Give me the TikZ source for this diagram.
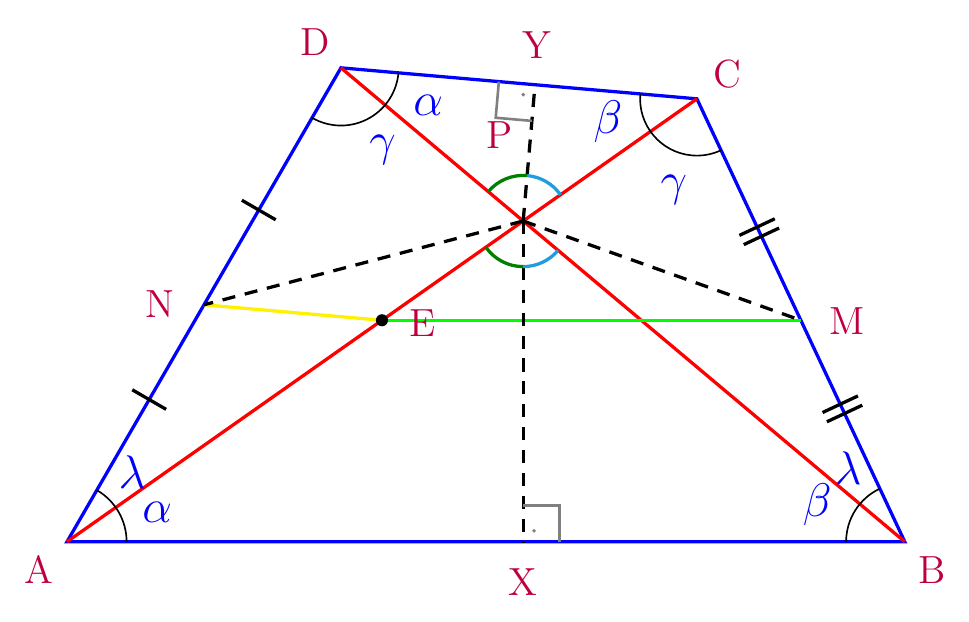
\documentclass[tikz,border=0pt]{standalone}
\usepackage{amsmath}
\usepackage{xcolor}
\usepackage{tikz}
\usetikzlibrary{calc}

\tikzset{
	side/.style={blue, line width=1pt},
	diag/.style={red, line width=1pt},
	aux/.style={black, line width=1pt, dash pattern=on 4pt off 3pt},
	tickmark/.style={black, line width=1pt},
	rmark/.style={gray, line width=0.8pt},
	lbl/.style={text=purple, font=\large},
	ang/.style={text=blue, font=\Large}
}

\begin{document}
\begin{tikzpicture}
			\useasboundingbox (-0.72,-0.86) rectangle (9.69,5.82);
			\coordinate (A) at (0,0);
			\coordinate (B) at (9,0);
			\coordinate (C) at (6.767,4.758);
			\coordinate (D) at (2.943,5.091);
			\coordinate (P) at (intersection of A--C and B--D);
			\coordinate (N) at ($(A)!0.5!(D)$);
			\coordinate (M) at ($(B)!0.5!(C)$);
			\coordinate (E) at ($(A)!0.5!(C)$);
			\coordinate (X) at (P |- A);
			\coordinate (Y) at ($(D)!(P)!(C)$);
			% sides and diagonals
			\draw [side] (A) -- (B) -- (C) -- (D) -- cycle;
			\draw [diag] (A) -- (C);
			\draw [diag] (B) -- (D);
			\draw [yellow, line width=1pt] (N) -- (E);
			\draw [green, line width=1pt] (E) -- (M);
			\draw [aux] (P) -- (N);
			\draw [aux] (P) -- (M);
			\draw [aux] (P) -- (X);
			\draw [aux] (P) -- (Y);
			\fill (E) circle (0.065);
			% equal segments
			\foreach \t in {0.3,0.7}{
				\coordinate (T) at ($(A)!\t!(D)$);
				\draw [tickmark] ($(T)!0.21cm!90:(D)$) -- ($(T)!0.21cm!-90:(D)$);
				\foreach \s in {-0.055,0.055}{
					\coordinate (T) at ($(C)!\t!(B)$);
					\coordinate (S) at ($(T)!\s cm!(B)$);
					\draw [tickmark] ($(S)!0.21cm!90:(B)$) -- ($(S)!0.21cm!-90:(B)$);
				}
			}
			% angles
			\draw [line width=0.5pt] ([shift={(0:0.64)}]A) arc (0:59.97:0.64);
			\draw [line width=0.5pt] ([shift={(115.1:0.63)}]B) arc (115.1:180:0.63);
			\draw [line width=0.5pt] ([shift={(175:0.61)}]C) arc (175:295.1:0.61);
			\draw [line width=0.5pt] ([shift={(240:0.62)}]D) arc (240:355:0.62);
			\draw [green!50!black, line width=1pt] ([shift={(85:0.49)}]P) arc (85:140:0.49);
			\draw [cyan!80!blue!90, line width=1pt] ([shift={(35.1:0.49)}]P) arc (35.1:85:0.49);
			\draw [green!50!black, line width=1pt] ([shift={(215.1:0.49)}]P) arc (215.1:270:0.49);
			\draw [cyan!80!blue!90, line width=1pt] ([shift={(270:0.49)}]P) arc (270:319.9:0.49);
			% right angles
			\coordinate (X1) at ($(X)!0.39cm!(B)$);
			\coordinate (X2) at ($(X)!0.39cm!(P)$);
			\coordinate (X3) at ($(X1)!0.5!(X2)$);
			\draw [rmark] (X1) -- ($(X1)+(X2)-(X)$) -- (X2);
			\fill [gray] ($(X)!0.6!(X3)$) circle (0.6pt);
			\coordinate (Y1) at ($(Y)!0.39cm!(D)$);
			\coordinate (Y2) at ($(Y)!0.39cm!(P)$);
			\coordinate (Y3) at ($(Y1)!0.5!(Y2)$);
			\draw [rmark] (Y1) -- ($(Y1)+(Y2)-(Y)$) -- (Y2);
			\fill [gray] ($(Y)!0.6!(Y3)$) circle (0.6pt);
			% labels
			\node [lbl] (lA) at (-0.30,-0.30) {A};
			\node [lbl] (lB) at (9.29,-0.30) {B};
			\node [lbl] (lC) at (7.09,5.02) {C};
			\node [lbl] (lD) at (2.67,5.37) {D};
			\node [lbl] (lN) at (1.00,2.55) {N};
			\node [lbl] (lM) at (8.38,2.37) {M};
			\node [lbl] (lE) at (3.82,2.35) {E};
			\node [lbl] (lX) at (4.90,-0.43) {X};
			\node [lbl] (lY) at (5.05,5.34) {Y};
			\node [lbl] (lP) at (4.65,4.37) {P};
			\node [ang] (aA) at (0.97,0.32) {$\alpha$};
			\node [ang] (lamA) at (0.70,0.75) {$\lambda$};
			\node [ang] (bB) at (8.06,0.40) {$\beta$};
			\node [ang] (lamB) at (8.39,0.79) {$\lambda$};
			\node [ang] (bC) at (5.81,4.51) {$\beta$};
			\node [ang] (gC) at (6.52,3.78) {$\gamma$};
			\node [ang] (aD) at (3.88,4.69) {$\alpha$};
			\node [ang] (gD) at (3.39,4.21) {$\gamma$};
		\end{tikzpicture}
\end{document}
